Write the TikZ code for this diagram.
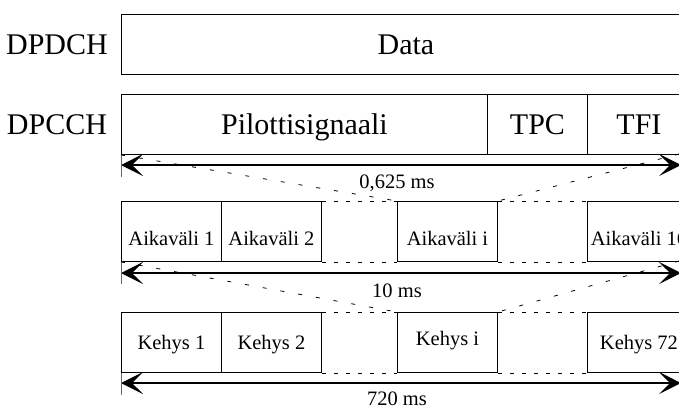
\documentclass[tikz,border=0pt]{standalone}
\usepackage{fontspec}
\setmainfont{Liberation Serif}
\usetikzlibrary{arrows.meta}
\begin{document}
\begin{tikzpicture}[x=1pt,y=-1pt,
  box/.style={draw, line width=0.9pt, inner sep=0pt, anchor=north west, minimum height=60pt},
  big/.style={font=\fontsize{30}{34}\selectfont, text height=20pt, text depth=0pt},
  small/.style={font=\fontsize{20.5}{24}\selectfont, text height=13.5pt, text depth=0pt},
  slot/.style={small, text height=29pt},
  dim/.style={line width=1.2pt, {Stealth[length=22pt,width=22pt,inset=11pt]}-{Stealth[length=22pt,width=22pt,inset=11pt]}},
  tick/.style={line width=0.8pt, draw=black!60},
  hdash/.style={line width=0.8pt, dash pattern=on 4pt off 8pt},
  ddash/.style={line width=0.8pt, dash pattern=on 4pt off 14pt},
]
\useasboundingbox (0,0) rectangle (679,410);
\clip (0,0) rectangle (679,410);

% channel labels
\node[big, anchor=center] (lbld) at (57,44) {DPDCH};
\node[big, anchor=center] (lblc) at (57,124) {DPCCH};

% data channel
\node[box, big, minimum width=569pt] (data) at (121,14) {Data};

% control channel fields
\node[box, big, minimum width=366pt] (pilot) at (121,94) {Pilottisignaali};
\node[box, big, minimum width=100pt] (tpc) at (487,94) {TPC};
\node[box, big, minimum width=103pt] (tfi) at (587,94) {TFI};

% time slots
\node[box, slot, minimum width=100pt] (a1) at (121,201) {Aikaväli 1};
\node[box, slot, minimum width=100pt] (a2) at (221,201) {Aikaväli 2};
\node[box, slot, minimum width=100pt] (ai) at (397,201) {Aikaväli i};
\node[box, slot, minimum width=103pt] (a16) at (587,201) {Aikaväli 16};

% frames
\node[box, small, minimum width=100pt] (k1) at (121,312) {Kehys 1};
\node[box, small, minimum width=100pt] (k2) at (221,312) {Kehys 2};
\node[box, small, minimum width=100pt, text height=6pt] (ki) at (397,312) {Kehys i};
\node[box, small, minimum width=103pt] (k72) at (587,312) {Kehys 72};

% dimension arrows
\coordinate (l1) at (121,165); \coordinate (r1) at (681,165);
\coordinate (l2) at (121,273); \coordinate (r2) at (681,273);
\coordinate (l3) at (121,383); \coordinate (r3) at (681,383);
\draw[dim] (l1) -- (r1);
\draw[dim] (l2) -- (r2);
\draw[dim] (l3) -- (r3);
\draw[tick] (pilot.south west) -- ++(0,22);
\draw[tick] (a1.south west) -- ++(0,22);
\draw[tick] (k1.south west) -- ++(0,22);

\node[small] (t1) at (397,182) {0,625 ms};
\node[small] (t2) at (397,291) {10 ms};
\node[small] (t3) at (397,399) {720 ms};

% gaps between shown slots and frames
\draw[hdash] (a2.north east) -- (ai.north west);
\draw[hdash] (a2.south east) -- (ai.south west);
\draw[hdash] (ai.north east) -- (a16.north west);
\draw[hdash] (ai.south east) -- (a16.south west);
\draw[hdash] (k2.north east) -- (ki.north west);
\draw[hdash] (k2.south east) -- (ki.south west);
\draw[hdash] (ki.north east) -- (k72.north west);
\draw[hdash] (ki.south east) -- (k72.south west);

% zoom lines
\coordinate (z1) at (679,154);
\coordinate (z2) at (679,261);
\draw[ddash] (pilot.south west) -- (ai.north west);
\draw[ddash] (z1) -- (ai.north east);
\draw[ddash] (a1.south west) -- (ki.north west);
\draw[ddash] (z2) -- (ki.north east);
\end{tikzpicture}
\end{document}
